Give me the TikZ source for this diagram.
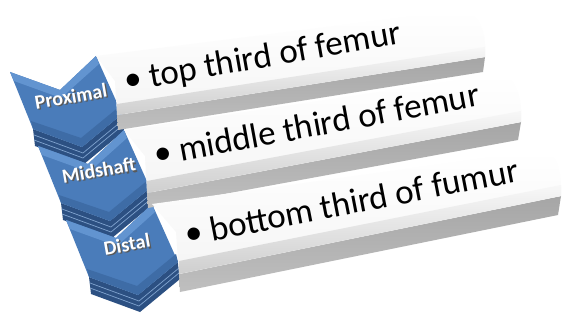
\documentclass[tikz,border=0pt]{standalone}
\usepackage{fontspec}
\setmainfont{Carlito}
\definecolor{cblue}{RGB}{74,124,186}
\definecolor{cbluelt}{RGB}{98,148,208}
\definecolor{cbluedk}{RGB}{44,80,130}
\definecolor{cbluemd}{RGB}{62,108,166}
\tikzset{
  chevface/.style={fill=cblue},
  chevtop/.style={fill=cbluelt},
  chevbev/.style={fill=cbluemd},
  chevside/.style={fill=cbluedk},
  chevstripe/.style={draw=cblue!70!white,line width=0.7pt},
  barface/.style={top color=white,bottom color=gray!8},
  barbevel/.style={top color=gray!6,bottom color=gray!38},
  barunder/.style={top color=gray!70,bottom color=gray!50},
  bartext/.style={font=\fontsize{35}{39}\selectfont,anchor=base west,inner sep=0pt,text=black},
  chevlabel/.style={font=\bfseries\fontsize{20}{24}\selectfont,text=white,inner sep=0pt}
}
\newcommand\mychev[4]{%
\begin{scope}[shift={(#1,#2)}]
  \fill[chevside] (23,57) -- (72,75) -- (112,42) -- (114,59) -- (74,92) -- (25,74) -- cycle;
  \draw[chevstripe] (24,63) -- (73,81) -- (113,48);
  \draw[chevstripe] (24,68) -- (73,86) -- (113,53);
  \fill[chevface] (0,0) -- (50,18) -- (86,-16) -- (112,42) -- (72,75) -- (23,57) -- cycle;
  \fill[chevtop] (0,0) -- (50,18) -- (86,-16) -- (89,-8) -- (51,26) -- (4,9) -- cycle;
  \fill[chevbev] (23,57) -- (72,75) -- (112,42) -- (110,34) -- (71,66) -- (21,49) -- cycle;
  \node[chevlabel,rotate=10] (#4) at (61,25) {\rlap{\hspace{1.3pt}\raisebox{-1.3pt}{\color{black!65}#3}}#3};
\end{scope}}
\begin{document}
\begin{tikzpicture}[x=1pt,y=-1pt]
\useasboundingbox[fill=white] (0,0) rectangle (563,321);
% chevrons
\mychev{10}{72}{Proximal}{prox}
\mychev{38}{146}{Midshaft}{mid}
\mychev{66}{220}{Distal}{dist}
% bar 1
\shade[barunder] (117,115) -- (485,57) -- (483,72) -- (118,130) -- cycle;
\shade[barface] (96,56) -- (462,10) .. controls (478,12) and (485,32) .. (485,45) -- (485,57) -- (117,115) -- (115,81) -- cycle;
\shade[barbevel] (117,104) -- (485,47) -- (485,57) -- (117,115) -- cycle;
\node[bartext,rotate=10] (t1) at (126,92) {• top third of femur};
% bar 2
\shade[barunder] (147,193) -- (521,122) -- (518,140) -- (148,208) -- cycle;
\shade[barface] (124,130) -- (500,74) .. controls (514,76) and (521,96) .. (521,110) -- (521,122) -- (147,193) -- (145,156) -- cycle;
\shade[barbevel] (147,181) -- (521,111) -- (521,122) -- (147,193) -- cycle;
\node[bartext,rotate=10.5] (t2) at (156,166) {• middle third of femur};
% bar 3
\shade[barunder] (179,274) -- (561,196) -- (558,215) -- (180,292) -- cycle;
\shade[barface] (152,204) -- (543,150) .. controls (556,152) and (561,172) .. (561,186) -- (561,196) -- (179,274) -- (176,232) -- cycle;
\shade[barbevel] (179,261) -- (561,185) -- (561,196) -- (179,274) -- cycle;
\node[bartext,rotate=11] (t3) at (187,246) {• bottom third of fumur};
\end{tikzpicture}
\end{document}
